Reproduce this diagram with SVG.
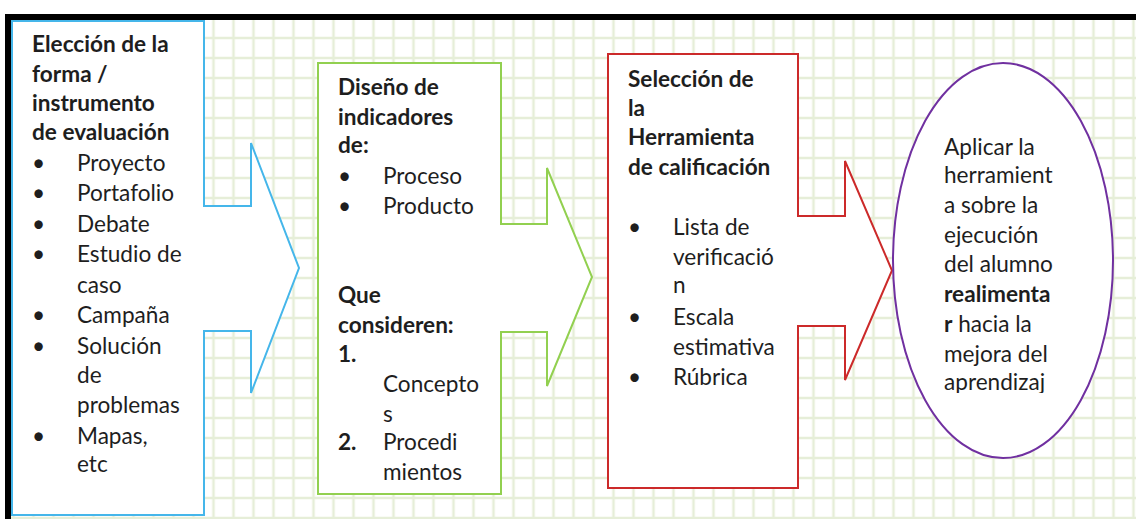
<svg xmlns="http://www.w3.org/2000/svg" width="1136" height="519" viewBox="0 0 1136 519">
  <defs>
    <pattern id="grid" patternUnits="userSpaceOnUse" x="3.5" y="8" width="20" height="20">
      <path d="M10,0 V20 M0,10 H20" fill="none" stroke="#e6eed8" stroke-width="2.6"/>
    </pattern>
    <clipPath id="ellclip"><rect x="880" y="60" width="250" height="333"/></clipPath>
    <style>
      .t { font-family: Lato, "Open Sans", sans-serif; font-size: 22.6px; fill: #1e1e1e; }
      .b { font-weight: bold; }
      .shape { fill: #ffffff; stroke-width: 2; stroke-linejoin: miter; }
    </style>
  </defs>
  <rect x="0" y="0" width="1136" height="519" fill="#ffffff"/>
  <rect x="11" y="20" width="1125" height="499" fill="url(#grid)"/>
  <g id="frame">
    <rect x="5" y="14" width="1131" height="6" fill="#000000"/>
    <rect x="5" y="14" width="6" height="505" fill="#000000"/>
  </g>
  <g id="connectors"></g>
  <g id="node1">
    <path class="shape" stroke="#45b6ea" d="M12,21 H204 V206 H251 V143 L299,268 L251,393 V331 H204 V515 H12 Z"/>
    <text class="t b" x="32" y="52">Elección de la</text>
    <text class="t b" x="32" y="82">forma /</text>
    <text class="t b" x="32" y="111">instrumento</text>
    <text class="t b" x="32" y="140">de evaluación</text>
    <g class="t">
      <text x="32" y="171">•</text><text x="77" y="171">Proyecto</text>
      <text x="32" y="201">•</text><text x="77" y="201">Portafolio</text>
      <text x="32" y="232">•</text><text x="77" y="232">Debate</text>
      <text x="32" y="262">•</text><text x="77" y="262">Estudio de</text>
      <text x="77" y="293">caso</text>
      <text x="32" y="323">•</text><text x="77" y="323">Campaña</text>
      <text x="32" y="354">•</text><text x="77" y="354">Solución</text>
      <text x="77" y="383">de</text>
      <text x="77" y="413">problemas</text>
      <text x="32" y="444">•</text><text x="77" y="444">Mapas,</text>
      <text x="77" y="472">etc</text>
    </g>
  </g>
  <g id="node2">
    <path class="shape" stroke="#92d050" d="M318,63 H501 V224 H547 V168 L592,277 L547,386 V332 H501 V494 H318 Z"/>
    <text class="t b" x="338" y="95">Diseño de</text>
    <text class="t b" x="338" y="125">indicadores</text>
    <text class="t b" x="338" y="153">de:</text>
    <g class="t">
      <text x="338" y="184">•</text><text x="383" y="184">Proceso</text>
      <text x="338" y="214">•</text><text x="383" y="214">Producto</text>
    </g>
    <text class="t b" x="338" y="303">Que</text>
    <text class="t b" x="338" y="333">consideren:</text>
    <text class="t b" x="338" y="362">1.</text>
    <g class="t">
      <text x="383" y="392">Concepto</text>
      <text x="383" y="422">s</text>
    </g>
    <text class="t b" x="338" y="450">2.</text>
    <g class="t">
      <text x="383" y="450">Procedi</text>
      <text x="383" y="480">mientos</text>
    </g>
  </g>
  <g id="node3">
    <path class="shape" stroke="#cc2a2a" d="M608,54 H798 V216 H845 V161 L892,270.5 L845,380 V326 H798 V488 H608 Z"/>
    <text class="t b" x="628" y="87">Selección de</text>
    <text class="t b" x="628" y="116">la</text>
    <text class="t b" x="628" y="145">Herramienta</text>
    <text class="t b" x="628" y="175">de calificación</text>
    <g class="t">
      <text x="628" y="235">•</text><text x="673" y="235">Lista de</text>
      <text x="673" y="265">verificació</text>
      <text x="673" y="293">n</text>
      <text x="628" y="325">•</text><text x="673" y="325">Escala</text>
      <text x="673" y="355">estimativa</text>
      <text x="628" y="385">•</text><text x="673" y="385">Rúbrica</text>
    </g>
  </g>
  <g id="node4">
    <ellipse cx="1003" cy="260.5" rx="110" ry="197.5" fill="#ffffff" stroke="#7030a0" stroke-width="2"/>
    <g class="t" clip-path="url(#ellclip)">
      <text x="944" y="155">Aplicar la</text>
      <text x="944" y="183">herramient</text>
      <text x="944" y="213">a sobre la</text>
      <text x="944" y="243">ejecución</text>
      <text x="944" y="272">del alumno</text>
      <text x="944" y="302" class="b">realimenta</text>
      <text x="944" y="332"><tspan class="b">r</tspan> hacia la</text>
      <text x="944" y="362">mejora del</text>
      <text x="944" y="390">aprendizaj</text>
    </g>
  </g>
</svg>
